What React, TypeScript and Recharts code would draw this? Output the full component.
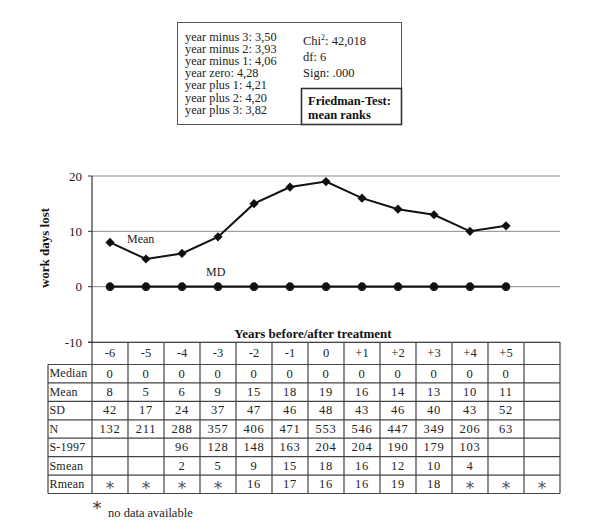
import React from "react";
import { ComposedChart, Line, XAxis, YAxis, CartesianGrid } from "recharts";

// ---- data ----
const years = ["-6", "-5", "-4", "-3", "-2", "-1", "0", "+1", "+2", "+3", "+4", "+5", ""];
const meanDays = [8, 5, 6, 9, 15, 18, 19, 16, 14, 13, 10, 11];
const medianDays = [0, 0, 0, 0, 0, 0, 0, 0, 0, 0, 0, 0];
const sdRow = [42, 17, 24, 37, 47, 46, 48, 43, 46, 40, 43, 52];
const nRow = [132, 211, 288, 357, 406, 471, 553, 546, 447, 349, 206, 63];
const s1997Row: (number | null)[] = [null, null, 96, 128, 148, 163, 204, 204, 190, 179, 103, null];
const smeanRow: (number | null)[] = [null, null, 2, 5, 9, 15, 18, 16, 12, 10, 4, null];
const rmeanRow: (number | string)[] = ["*", "*", "*", "*", 16, 17, 16, 16, 19, 18, "*", "*", "*"];
const yTicks = [-10, 0, 10, 20];
const rankLabels = ["year minus 3", "year minus 2", "year minus 1", "year zero", "year plus 1", "year plus 2", "year plus 3"];
const rankValues = ["3,50", "3,93", "4,06", "4,28", "4,21", "4,20", "3,82"];
const chiValue = "42,018";
const dfValue = "6";
const signValue = ".000";

const data = years.map((y, i) => ({
  idx: i,
  year: y,
  mean: i < meanDays.length ? meanDays[i] : null,
  median: i < medianDays.length ? medianDays[i] : null,
}));

const FONT = "'Liberation Serif', 'Times New Roman', serif";
const STAR_FONT = "'DejaVu Sans', sans-serif";
const W = 584;
const H = 514;
const PL = 84;
const PR = 552;
const PT = 168;
const PB = 334;
const colW = (PR - PL) / years.length;
const TL = 40;
const headerBottom = 356.5;
const rowH = 18.43;

const rows: { label: string; values: (number | string | null)[] }[] = [
  { label: "Median", values: medianDays },
  { label: "Mean", values: meanDays },
  { label: "SD", values: sdRow },
  { label: "N", values: nRow },
  { label: "S-1997", values: s1997Row },
  { label: "Smean", values: smeanRow },
  { label: "Rmean", values: rmeanRow },
];

const Diamond = (props: any) => {
  const { cx, cy } = props;
  if (cx == null || cy == null) return null;
  const s = 4.6;
  return <path d={`M${cx},${cy - s}L${cx + s},${cy}L${cx},${cy + s}L${cx - s},${cy}Z`} fill="#111" stroke="none" />;
};
const Circle = (props: any) => {
  const { cx, cy } = props;
  if (cx == null || cy == null) return null;
  return <circle cx={cx} cy={cy} r={4.3} fill="#111" stroke="none" />;
};

function Overlay() {
  const tableBottom = headerBottom + rowH * rows.length;
  const lineCol = "#444";
  return (
    <svg width={W} height={H} style={{ position: "absolute", left: 0, top: 0, pointerEvents: "none" }} fontFamily={FONT}>
      {/* info box */}
      <rect x={169.5} y={14.5} width={224} height={102} fill="none" stroke="#555" strokeWidth={1} />
      <rect x={293.5} y={80.5} width={100} height={36} fill="none" stroke="#333" strokeWidth={1.6} />
      {rankLabels.map((l, i) => (
        <text key={l} x={177} y={33 + i * 12.1} fontSize={12.3} fill="#222">
          {l}: {rankValues[i]}
        </text>
      ))}
      <text x={295} y={37} fontSize={12.5} fill="#222">
        Chi<tspan fontSize={8} dy={-5}>2</tspan>
        <tspan dy={5}>: {chiValue}</tspan>
      </text>
      <text x={295} y={53} fontSize={12.5} fill="#222">df: {dfValue}</text>
      <text x={295} y={69} fontSize={12.5} fill="#222">Sign: {signValue}</text>
      <text x={300} y={97} fontSize={12.5} fontWeight="bold" fill="#111">Friedman-Test:</text>
      <text x={300} y={111} fontSize={12.5} fontWeight="bold" fill="#111">mean ranks</text>

      {/* axis label */}
      <text x={38} y={240} transform="rotate(-90 38 240)" textAnchor="middle" dominantBaseline="middle" fontSize={13} fontWeight="bold" fill="#111">
        work days lost
      </text>
      <text x={119} y={235} fontSize={12} fill="#222">Mean</text>
      <text x={198} y={268} fontSize={12} fill="#222">MD</text>

      {/* x title */}
      <text x={305} y={330} textAnchor="middle" fontSize={13} fontWeight="bold" fill="#111">
        Years before/after treatment
      </text>

      {/* table grid */}
      <line x1={PL - 4} x2={PR} y1={PB + 0.5} y2={PB + 0.5} stroke={lineCol} strokeWidth={1.2} />
      <line x1={TL} x2={PR} y1={headerBottom} y2={headerBottom} stroke={lineCol} strokeWidth={1.2} />
      {rows.map((r, i) => (
        <line key={r.label} x1={TL} x2={PR} y1={headerBottom + rowH * (i + 1)} y2={headerBottom + rowH * (i + 1)} stroke={lineCol} strokeWidth={1.2} />
      ))}
      <line x1={TL} x2={TL} y1={headerBottom} y2={tableBottom} stroke={lineCol} strokeWidth={1.2} />
      {years.map((_, i) => (
        <line key={i} x1={PL + colW * (i + 1)} x2={PL + colW * (i + 1)} y1={PB} y2={tableBottom} stroke={lineCol} strokeWidth={1.2} />
      ))}
      <line x1={PL} x2={PL} y1={PB} y2={tableBottom} stroke={lineCol} strokeWidth={1.2} />

      {years.map((y, i) => (
        <text key={"h" + i} x={PL + colW * (i + 0.5)} y={PB + 12} textAnchor="middle" dominantBaseline="middle" fontSize={12.5} fill="#222">
          {y}
        </text>
      ))}
      {rows.map((r, ri) => {
        const cy = headerBottom + rowH * (ri + 0.5) + 1;
        return (
          <g key={r.label}>
            <text x={TL + 1.5} y={cy} dominantBaseline="middle" fontSize={12} fill="#222" letterSpacing={0.2}>
              {r.label}
            </text>
            {r.values.map((v, ci) =>
              v == null ? null : v === "*" ? (
                <text key={ci} x={PL + colW * (ci + 0.5)} y={cy + 4} textAnchor="middle" dominantBaseline="middle" fontSize={17} fill="#555" fontFamily={STAR_FONT}>
                  *
                </text>
              ) : (
                <text key={ci} x={PL + colW * (ci + 0.5)} y={cy} textAnchor="middle" dominantBaseline="middle" fontSize={12.5} fill="#222" letterSpacing={0.8}>
                  {v}
                </text>
              )
            )}
          </g>
        );
      })}

      {/* footnote */}
      <text x={89} y={506} textAnchor="middle" fontSize={18} fill="#333" fontFamily={STAR_FONT}>*</text>
      <text x={100} y={509} fontSize={12.5} fill="#222">no data available</text>
    </svg>
  );
}

export default function App() {
  return (
    <div style={{ position: "relative", width: W, height: H, fontFamily: FONT }}>
      <div style={{ position: "absolute", left: 0, top: 0 }}>
        <ComposedChart width={W} height={H} data={data} margin={{ top: PT, right: W - PR, bottom: H - PB, left: PL - 40 }}>
          <CartesianGrid vertical={false} stroke="#8a8a8a" strokeWidth={1} />
          <XAxis dataKey="idx" type="number" domain={[-0.5, years.length - 0.5]} hide />
          <YAxis
            width={40}
            domain={[-10, 20]}
            ticks={yTicks}
            interval={0}
            axisLine={{ stroke: "#333", strokeWidth: 1.2 }}
            tickLine={{ stroke: "#333" }}
            tickSize={4}
            tickMargin={6}
            tick={{ fontSize: 13, fill: "#222", fontFamily: FONT }}
          />
          <Line dataKey="median" stroke="#111" strokeWidth={2.2} dot={<Circle />} activeDot={false} isAnimationActive={false} />
          <Line dataKey="mean" stroke="#111" strokeWidth={2} dot={<Diamond />} activeDot={false} isAnimationActive={false} />
        </ComposedChart>
      </div>
      <Overlay />
    </div>
  );
}
